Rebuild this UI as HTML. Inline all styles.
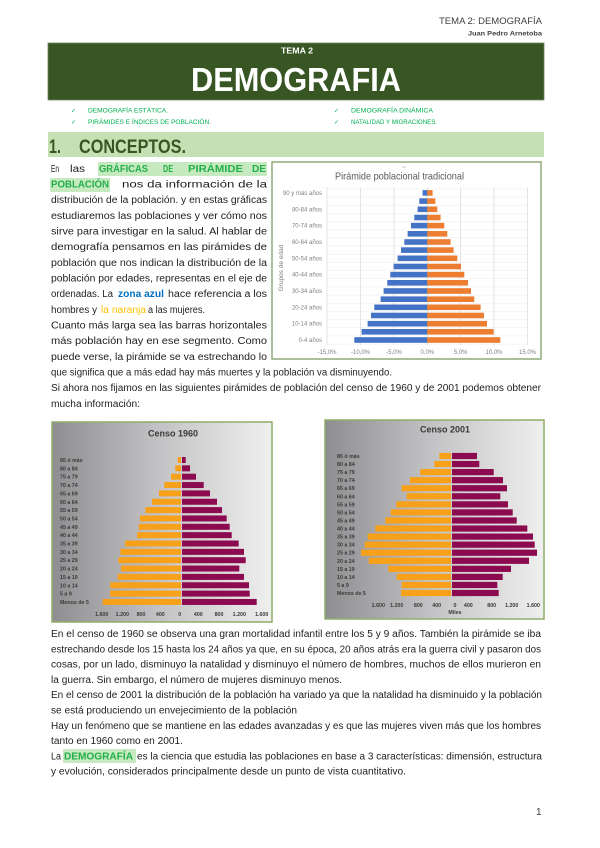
<!DOCTYPE html>
<html>
<head>
<meta charset="utf-8">
<style>
html,body{margin:0;padding:0;background:#fff;}
svg{display:block;}
text{font-family:"Liberation Sans",Arial,sans-serif;}
</style>
</head>
<body>
<svg width="600" height="848" viewBox="0 0 600 848" xmlns="http://www.w3.org/2000/svg">
<defs>
<linearGradient id="gbg" x1="0" y1="0" x2="1" y2="0">
<stop offset="0" stop-color="#8e8e91"/>
<stop offset="0.5" stop-color="#c4c4c6"/>
<stop offset="1" stop-color="#efefef"/>
</linearGradient>
</defs>
<rect width="600" height="848" fill="#fff"/>

<!-- Header -->
<text x="439" y="24" font-size="9" fill="#404040" textLength="103" lengthAdjust="spacingAndGlyphs">TEMA 2: DEMOGRAFÍA</text>
<text x="468" y="35.5" font-size="6.5" font-weight="bold" fill="#404040" textLength="74" lengthAdjust="spacingAndGlyphs">Juan Pedro Arnetoba</text>

<!-- Banner -->
<rect x="48" y="43" width="496" height="57" fill="#375623" stroke="#6d8a5a" stroke-width="0.8"/>
<text x="281" y="53.5" font-size="8.5" font-weight="bold" fill="#fff" textLength="32" lengthAdjust="spacingAndGlyphs">TEMA 2</text>
<text x="191" y="91" font-size="33" font-weight="bold" fill="#fff" textLength="210" lengthAdjust="spacingAndGlyphs">DEMOGRAFIA</text>

<!-- Checklist -->
<g font-size="6" fill="#00b050">
<text x="71" y="112.5">✓</text>
<text x="71" y="124">✓</text>
<text x="334" y="112.5">✓</text>
<text x="334" y="124">✓</text>
<text x="88" y="112.3" textLength="80" lengthAdjust="spacingAndGlyphs">DEMOGRAFÍA ESTÁTICA.</text>
<text x="88" y="123.8" textLength="123" lengthAdjust="spacingAndGlyphs">PIRÁMIDES E ÍNDICES DE POBLACIÓN.</text>
<text x="351" y="112.3" textLength="82" lengthAdjust="spacingAndGlyphs">DEMOGRAFÍA DINÁMICA</text>
<text x="351" y="123.8" textLength="86" lengthAdjust="spacingAndGlyphs">NATALIDAD Y MIGRACIONES.</text>
</g>

<!-- Section bar -->
<rect x="48" y="132" width="496" height="25" fill="#c5e0b3"/>
<text x="49" y="153" font-size="19" font-weight="bold" fill="#375623" textLength="12" lengthAdjust="spacingAndGlyphs">1.</text>
<text x="79" y="153" font-size="19" font-weight="bold" fill="#375623" textLength="107" lengthAdjust="spacingAndGlyphs">CONCEPTOS.</text>

<!-- Left column text -->
<rect x="98" y="162" width="169" height="14" fill="#c6e9bf"/>
<rect x="50" y="178" width="60" height="14" fill="#c6e9bf"/>
<g font-size="10" fill="#1e1e1e">
<text x="51" y="171.8" textLength="8" lengthAdjust="spacingAndGlyphs">En</text>
<text x="70" y="171.8" textLength="15" lengthAdjust="spacingAndGlyphs">las</text>
<g font-weight="bold" fill="#22b04a">
<text x="99" y="171.8" textLength="49" lengthAdjust="spacingAndGlyphs">GRÁFICAS</text>
<text x="163" y="171.8" textLength="10" lengthAdjust="spacingAndGlyphs">DE</text>
<text x="188" y="171.8" textLength="55" lengthAdjust="spacingAndGlyphs">PIRÁMIDE</text>
<text x="252" y="171.8" textLength="14" lengthAdjust="spacingAndGlyphs">DE</text>
<text x="51" y="187.5" textLength="58" lengthAdjust="spacingAndGlyphs">POBLACIÓN</text>
</g>
<text x="122" y="187.5" textLength="145" lengthAdjust="spacingAndGlyphs">nos  da  información  de  la</text>
<text x="51" y="203.1" textLength="216" lengthAdjust="spacingAndGlyphs">distribución de la población. y en estas gráficas</text>
<text x="51" y="218.8" textLength="216" lengthAdjust="spacingAndGlyphs">estudiaremos las poblaciones y ver cómo nos</text>
<text x="51" y="234.5" textLength="216" lengthAdjust="spacingAndGlyphs">sirve para investigar en la salud. Al hablar de</text>
<text x="51" y="250.1" textLength="216" lengthAdjust="spacingAndGlyphs">demografía  pensamos  en  las  pirámides  de</text>
<text x="51" y="265.8" textLength="216" lengthAdjust="spacingAndGlyphs">población que nos indican la distribución de la</text>
<text x="51" y="281.5" textLength="216" lengthAdjust="spacingAndGlyphs">población por edades, representas en el eje de</text>
<text x="51" y="297.2" textLength="62" lengthAdjust="spacingAndGlyphs">ordenadas. La</text>
<text x="118" y="297.2" textLength="46" lengthAdjust="spacingAndGlyphs" font-weight="bold" fill="#0070c0">zona azul</text>
<text x="168" y="297.2" textLength="99" lengthAdjust="spacingAndGlyphs">hace referencia a los</text>
<text x="51" y="312.8" textLength="46" lengthAdjust="spacingAndGlyphs">hombres y</text>
<text x="101" y="312.8" textLength="45" lengthAdjust="spacingAndGlyphs" fill="#ffc000">la naranja</text>
<text x="148" y="312.8" textLength="57" lengthAdjust="spacingAndGlyphs">a las mujeres.</text>
<text x="51" y="328.5" textLength="216" lengthAdjust="spacingAndGlyphs">Cuanto más larga sea las barras horizontales</text>
<text x="51" y="344.2" textLength="216" lengthAdjust="spacingAndGlyphs">más  población  hay  en  ese  segmento.  Como</text>
<text x="51" y="359.8" textLength="216" lengthAdjust="spacingAndGlyphs">puede verse, la pirámide se va estrechando lo</text>
<text x="51" y="375.5" textLength="341" lengthAdjust="spacingAndGlyphs">que significa que a más edad hay más muertes y la población va disminuyendo.</text>
<text x="51" y="391.2" textLength="490" lengthAdjust="spacingAndGlyphs">Si ahora nos fijamos en las siguientes pirámides de población del censo de 1960 y de 2001 podemos obtener</text>
<text x="51" y="406.8" textLength="89" lengthAdjust="spacingAndGlyphs">mucha información:</text>
</g>

<!-- Chart 1 -->
<rect x="272" y="162" width="269" height="197" fill="#fff" stroke="#8eaa78" stroke-width="1.5"/>
<line x1="402" y1="167" x2="406" y2="167" stroke="#bbb" stroke-width="0.8"/>
<text x="335" y="179.5" font-size="10.5" fill="#595959" textLength="129" lengthAdjust="spacingAndGlyphs">Pirámide poblacional tradicional</text>
<g stroke="#ececec" stroke-width="0.5">
<line x1="327" y1="344.1" x2="528" y2="344.1"/><line x1="327" y1="335.9" x2="528" y2="335.9"/><line x1="327" y1="327.7" x2="528" y2="327.7"/><line x1="327" y1="319.6" x2="528" y2="319.6"/><line x1="327" y1="311.4" x2="528" y2="311.4"/><line x1="327" y1="303.2" x2="528" y2="303.2"/><line x1="327" y1="295.1" x2="528" y2="295.1"/><line x1="327" y1="286.9" x2="528" y2="286.9"/><line x1="327" y1="278.7" x2="528" y2="278.7"/><line x1="327" y1="270.6" x2="528" y2="270.6"/><line x1="327" y1="262.4" x2="528" y2="262.4"/><line x1="327" y1="254.2" x2="528" y2="254.2"/><line x1="327" y1="246.0" x2="528" y2="246.0"/><line x1="327" y1="237.9" x2="528" y2="237.9"/><line x1="327" y1="229.7" x2="528" y2="229.7"/><line x1="327" y1="221.5" x2="528" y2="221.5"/><line x1="327" y1="213.4" x2="528" y2="213.4"/><line x1="327" y1="205.2" x2="528" y2="205.2"/><line x1="327" y1="197.0" x2="528" y2="197.0"/><line x1="327" y1="188.9" x2="528" y2="188.9"/>
</g>
<g stroke="#d9d9d9" stroke-width="0.7">
<line x1="327" y1="187" x2="327" y2="345"/><line x1="360.5" y1="187" x2="360.5" y2="345"/><line x1="394" y1="187" x2="394" y2="345"/><line x1="427.3" y1="187" x2="427.3" y2="345"/><line x1="460.7" y1="187" x2="460.7" y2="345"/><line x1="494" y1="187" x2="494" y2="345"/><line x1="527.5" y1="187" x2="527.5" y2="345"/>
</g>
<g fill="#4472c4">
<rect x="354.3" y="337.2" width="73" height="5.6"/>
<rect x="361.6" y="329.0" width="65.7" height="5.6"/>
<rect x="367.6" y="320.9" width="59.7" height="5.6"/>
<rect x="371.0" y="312.7" width="56.3" height="5.6"/>
<rect x="374.3" y="304.5" width="53" height="5.6"/>
<rect x="380.6" y="296.4" width="46.7" height="5.6"/>
<rect x="383.6" y="288.2" width="43.7" height="5.6"/>
<rect x="387.3" y="280.0" width="40" height="5.6"/>
<rect x="390.3" y="271.8" width="37" height="5.6"/>
<rect x="393.6" y="263.7" width="33.7" height="5.6"/>
<rect x="397.6" y="255.5" width="29.7" height="5.6"/>
<rect x="401.0" y="247.3" width="26.3" height="5.6"/>
<rect x="404.3" y="239.2" width="23" height="5.6"/>
<rect x="407.6" y="231.0" width="19.7" height="5.6"/>
<rect x="411.0" y="222.8" width="16.3" height="5.6"/>
<rect x="414.3" y="214.7" width="13" height="5.6"/>
<rect x="417.6" y="206.5" width="9.7" height="5.6"/>
<rect x="419.3" y="198.3" width="8" height="5.6"/>
<rect x="422.6" y="190.1" width="4.7" height="5.6"/>
</g>
<g fill="#ed7d31">
<rect x="427.3" y="337.2" width="73" height="5.6"/>
<rect x="427.3" y="329.0" width="66.3" height="5.6"/>
<rect x="427.3" y="320.9" width="59.7" height="5.6"/>
<rect x="427.3" y="312.7" width="56.7" height="5.6"/>
<rect x="427.3" y="304.5" width="53.3" height="5.6"/>
<rect x="427.3" y="296.4" width="47" height="5.6"/>
<rect x="427.3" y="288.2" width="43.7" height="5.6"/>
<rect x="427.3" y="280.0" width="40.7" height="5.6"/>
<rect x="427.3" y="271.8" width="37" height="5.6"/>
<rect x="427.3" y="263.7" width="33.7" height="5.6"/>
<rect x="427.3" y="255.5" width="30" height="5.6"/>
<rect x="427.3" y="247.3" width="26.3" height="5.6"/>
<rect x="427.3" y="239.2" width="23.3" height="5.6"/>
<rect x="427.3" y="231.0" width="20" height="5.6"/>
<rect x="427.3" y="222.8" width="17" height="5.6"/>
<rect x="427.3" y="214.7" width="13.3" height="5.6"/>
<rect x="427.3" y="206.5" width="10" height="5.6"/>
<rect x="427.3" y="198.3" width="8" height="5.6"/>
<rect x="427.3" y="190.1" width="5.3" height="5.6"/>
</g>
<g font-size="6" fill="#7f7f7f" text-anchor="end">
<text x="322" y="195">90 y más años</text>
<text x="322" y="211.3">80-84 años</text>
<text x="322" y="227.6">70-74 años</text>
<text x="322" y="244">60-64 años</text>
<text x="322" y="260.3">50-54 años</text>
<text x="322" y="276.5">40-44 años</text>
<text x="322" y="292.9">30-34 años</text>
<text x="322" y="309.3">20-24 años</text>
<text x="322" y="325.7">10-14 años</text>
<text x="322" y="342">0-4 años</text>
</g>
<g font-size="6" fill="#7f7f7f" text-anchor="middle">
<text x="327" y="354">-15,0%</text>
<text x="360.5" y="354">-10,0%</text>
<text x="394" y="354">-5,0%</text>
<text x="427.3" y="354">0,0%</text>
<text x="460.7" y="354">5,0%</text>
<text x="494" y="354">10,0%</text>
<text x="527.5" y="354">15,0%</text>
</g>
<text transform="translate(283,268) rotate(-90)" font-size="6.5" fill="#7f7f7f" text-anchor="middle">Grupos de edad</text>

<!-- Censo 1960 -->
<rect x="52" y="422" width="220" height="200" fill="url(#gbg)" stroke="#8fae6c" stroke-width="1.5"/>
<text x="173" y="436.5" font-size="9" font-weight="bold" fill="#3a3a3a" text-anchor="middle">Censo 1960</text>
<g fill="#f7a11a">
<rect x="177.7" y="457" width="3.3" height="6"/>
<rect x="175.3" y="465.35" width="5.7" height="6"/>
<rect x="171" y="473.7" width="10" height="6"/>
<rect x="164.3" y="482.05" width="16.7" height="6"/>
<rect x="159" y="490.4" width="22" height="6"/>
<rect x="152" y="498.75" width="29" height="6"/>
<rect x="145.3" y="507.1" width="35.7" height="6"/>
<rect x="140" y="515.45" width="41" height="6"/>
<rect x="138.7" y="523.8" width="42.3" height="6"/>
<rect x="137" y="532.15" width="44" height="6"/>
<rect x="125" y="540.5" width="56" height="6"/>
<rect x="120.3" y="548.85" width="60.7" height="6"/>
<rect x="118.3" y="557.2" width="62.7" height="6"/>
<rect x="121" y="565.55" width="60" height="6"/>
<rect x="117.7" y="573.9" width="63.3" height="6"/>
<rect x="110.3" y="582.25" width="70.7" height="6"/>
<rect x="110" y="590.6" width="71" height="6"/>
<rect x="102.7" y="598.95" width="78.3" height="6"/>
</g>
<g fill="#8b0a50">
<rect x="182" y="457" width="3.7" height="6"/>
<rect x="182" y="465.35" width="8" height="6"/>
<rect x="182" y="473.7" width="14" height="6"/>
<rect x="182" y="482.05" width="21.7" height="6"/>
<rect x="182" y="490.4" width="28" height="6"/>
<rect x="182" y="498.75" width="35" height="6"/>
<rect x="182" y="507.1" width="40" height="6"/>
<rect x="182" y="515.45" width="44.7" height="6"/>
<rect x="182" y="523.8" width="47.7" height="6"/>
<rect x="182" y="532.15" width="49.7" height="6"/>
<rect x="182" y="540.5" width="56.7" height="6"/>
<rect x="182" y="548.85" width="62" height="6"/>
<rect x="182" y="557.2" width="63.7" height="6"/>
<rect x="182" y="565.55" width="57.3" height="6"/>
<rect x="182" y="573.9" width="62" height="6"/>
<rect x="182" y="582.25" width="67" height="6"/>
<rect x="182" y="590.6" width="67.7" height="6"/>
<rect x="182" y="598.95" width="74.7" height="6"/>
</g>
<g font-size="5.3" font-weight="bold" fill="#3a3a3a">
<text x="60" y="462">85 ó más</text>
<text x="60" y="470.35">80 a 84</text>
<text x="60" y="478.7">75 a 79</text>
<text x="60" y="487.05">70 a 74</text>
<text x="60" y="495.4">65 a 69</text>
<text x="60" y="503.75">60 a 64</text>
<text x="60" y="512.1">55 a 59</text>
<text x="60" y="520.45">50 a 54</text>
<text x="60" y="528.8">45 a 49</text>
<text x="60" y="537.15">40 a 44</text>
<text x="60" y="545.5">35 a 39</text>
<text x="60" y="553.85">30 a 34</text>
<text x="60" y="562.2">25 a 29</text>
<text x="60" y="570.55">20 a 24</text>
<text x="60" y="578.9">15 a 19</text>
<text x="60" y="587.25">10 a 14</text>
<text x="60" y="595.6">5 a 9</text>
<text x="60" y="603.95">Menos de 5</text>
</g>
<g font-size="5.3" font-weight="bold" fill="#3a3a3a" text-anchor="middle">
<text x="101.7" y="616">1.600</text>
<text x="122.3" y="616">1.200</text>
<text x="141" y="616">800</text>
<text x="160.3" y="616">400</text>
<text x="179.7" y="616">0</text>
<text x="198.3" y="616">400</text>
<text x="219" y="616">800</text>
<text x="239.3" y="616">1.200</text>
<text x="261.7" y="616">1.600</text>
</g>

<!-- Censo 2001 -->
<rect x="325" y="420" width="219" height="199" fill="url(#gbg)" stroke="#8fae6c" stroke-width="1.5"/>
<text x="445" y="432.5" font-size="9" font-weight="bold" fill="#3a3a3a" text-anchor="middle">Censo 2001</text>
<g fill="#f7a11a">
<rect x="439.3" y="452.9" width="11.7" height="6.2"/>
<rect x="434.3" y="460.96" width="16.7" height="6.2"/>
<rect x="420.3" y="469.02" width="30.7" height="6.2"/>
<rect x="410" y="477.08" width="41" height="6.2"/>
<rect x="401.7" y="485.14" width="49.3" height="6.2"/>
<rect x="406.7" y="493.2" width="44.3" height="6.2"/>
<rect x="396.3" y="501.26" width="54.7" height="6.2"/>
<rect x="390.7" y="509.32" width="60.3" height="6.2"/>
<rect x="385.3" y="517.38" width="65.7" height="6.2"/>
<rect x="375.3" y="525.44" width="75.7" height="6.2"/>
<rect x="367.7" y="533.5" width="83.3" height="6.2"/>
<rect x="364.7" y="541.56" width="86.3" height="6.2"/>
<rect x="361" y="549.62" width="90" height="6.2"/>
<rect x="368.7" y="557.68" width="82.3" height="6.2"/>
<rect x="388.3" y="565.74" width="62.7" height="6.2"/>
<rect x="396.7" y="573.8" width="54.3" height="6.2"/>
<rect x="401.7" y="581.86" width="49.3" height="6.2"/>
<rect x="401" y="589.92" width="50" height="6.2"/>
</g>
<g fill="#8b0a50">
<rect x="452" y="452.9" width="25" height="6.2"/>
<rect x="452" y="460.96" width="27.3" height="6.2"/>
<rect x="452" y="469.02" width="41.7" height="6.2"/>
<rect x="452" y="477.08" width="51" height="6.2"/>
<rect x="452" y="485.14" width="55" height="6.2"/>
<rect x="452" y="493.2" width="48.3" height="6.2"/>
<rect x="452" y="501.26" width="56" height="6.2"/>
<rect x="452" y="509.32" width="60.7" height="6.2"/>
<rect x="452" y="517.38" width="64.7" height="6.2"/>
<rect x="452" y="525.44" width="75.3" height="6.2"/>
<rect x="452" y="533.5" width="81" height="6.2"/>
<rect x="452" y="541.56" width="82.7" height="6.2"/>
<rect x="452" y="549.62" width="85" height="6.2"/>
<rect x="452" y="557.68" width="77" height="6.2"/>
<rect x="452" y="565.74" width="59" height="6.2"/>
<rect x="452" y="573.8" width="50.7" height="6.2"/>
<rect x="452" y="581.86" width="45.3" height="6.2"/>
<rect x="452" y="589.92" width="46.7" height="6.2"/>
</g>
<g font-size="5.3" font-weight="bold" fill="#3a3a3a">
<text x="337" y="458">85 ó más</text>
<text x="337" y="466.06">80 a 84</text>
<text x="337" y="474.12">75 a 79</text>
<text x="337" y="482.18">70 a 74</text>
<text x="337" y="490.24">65 a 69</text>
<text x="337" y="498.3">60 a 64</text>
<text x="337" y="506.36">55 a 59</text>
<text x="337" y="514.42">50 a 54</text>
<text x="337" y="522.48">45 a 49</text>
<text x="337" y="530.54">40 a 44</text>
<text x="337" y="538.6">35 a 39</text>
<text x="337" y="546.66">30 a 34</text>
<text x="337" y="554.72">25 a 29</text>
<text x="337" y="562.78">20 a 24</text>
<text x="337" y="570.84">15 a 19</text>
<text x="337" y="578.9">10 a 14</text>
<text x="337" y="586.96">5 a 9</text>
<text x="337" y="595.02">Menos de 5</text>
</g>
<g font-size="5.3" font-weight="bold" fill="#3a3a3a" text-anchor="middle">
<text x="378.3" y="607">1.600</text>
<text x="396.7" y="607">1.200</text>
<text x="418.3" y="607">800</text>
<text x="436.7" y="607">400</text>
<text x="455" y="607">0</text>
<text x="468.3" y="607">400</text>
<text x="491.7" y="607">800</text>
<text x="511.7" y="607">1.200</text>
<text x="533.3" y="607">1.600</text>
<text x="455" y="614">Miles</text>
</g>

<!-- Bottom text -->
<rect x="63" y="749" width="73" height="14" fill="#c6e9bf"/>
<g font-size="10" fill="#1e1e1e">
<text x="51" y="637" textLength="490" lengthAdjust="spacingAndGlyphs">En el censo de 1960 se observa una gran mortalidad infantil entre los 5 y 9 años. También la pirámide se iba</text>
<text x="51" y="652.3" textLength="490" lengthAdjust="spacingAndGlyphs">estrechando desde los 15 hasta los 24 años ya que, en su época, 20 años atrás era la guerra civil y pasaron dos</text>
<text x="51" y="667.6" textLength="490" lengthAdjust="spacingAndGlyphs">cosas, por un lado, disminuyo la natalidad y disminuyo el número de hombres, muchos de ellos murieron en</text>
<text x="51" y="682.9" textLength="291" lengthAdjust="spacingAndGlyphs">la guerra. Sin embargo, el número de mujeres disminuyo menos.</text>
<text x="51" y="698.2" textLength="491" lengthAdjust="spacingAndGlyphs">En el censo de 2001 la distribución de la población ha variado ya que la natalidad ha disminuido y la población</text>
<text x="51" y="713.5" textLength="246" lengthAdjust="spacingAndGlyphs">se está produciendo un envejecimiento de la población</text>
<text x="51" y="728.8" textLength="490" lengthAdjust="spacingAndGlyphs">Hay un fenómeno que se mantiene en las edades avanzadas y es que las mujeres viven más que los hombres</text>
<text x="51" y="744.1" textLength="132" lengthAdjust="spacingAndGlyphs">tanto en 1960 como en 2001.</text>
<text x="51" y="759.4" textLength="10" lengthAdjust="spacingAndGlyphs">La</text>
<text x="64" y="759.4" textLength="69" lengthAdjust="spacingAndGlyphs" font-weight="bold" fill="#22b04a">DEMOGRAFÍA</text>
<text x="137" y="759.4" textLength="405" lengthAdjust="spacingAndGlyphs">es la ciencia que estudia las poblaciones en base a 3 características: dimensión, estructura</text>
<text x="51" y="774.7" textLength="355" lengthAdjust="spacingAndGlyphs">y evolución, considerados principalmente desde un punto de vista cuantitativo.</text>
</g>

<!-- Page number -->
<text x="536" y="815" font-size="10" fill="#404040">1</text>
</svg>
</body>
</html>
